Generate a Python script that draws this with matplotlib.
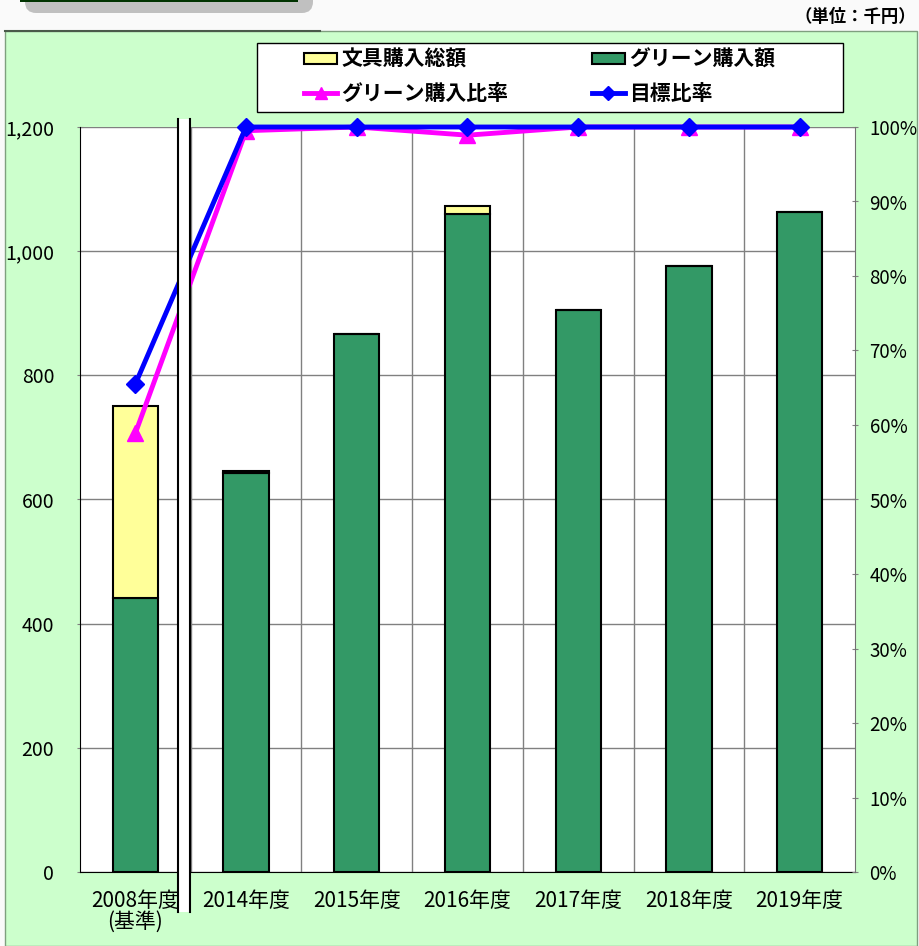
import numpy as np
import matplotlib.pyplot as plt
from matplotlib.patches import Rectangle, FancyBboxPatch, Patch
from matplotlib.lines import Line2D

plt.rcParams['font.family'] = ['Noto Sans CJK JP', 'DejaVu Sans']

# Datos (千円 y %)
years = ['2008年度\n(基準)', '2014年度', '2015年度', '2016年度', '2017年度', '2018年度', '2019年度']
total_buy = [750, 646, 866, 1072, 905, 976, 1063]      # 文具購入総額
green_buy = [442, 643, 866, 1060, 905, 976, 1063]      # グリーン購入額
green_ratio = [58.9, 99.5, 100, 98.9, 100, 100, 100]   # グリーン購入比率
target_ratio = [65.5, 100, 100, 100, 100, 100, 100]    # 目標比率

W, H = 920, 946
fig = plt.figure(figsize=(W / 100, H / 100), dpi=100)
fig.patch.set_facecolor('#FAFAFA')

def fx(px):
    return px / W

def fy(py):
    return 1 - py / H

# Panel verde de fondo
fig.add_artist(Rectangle((fx(5), 0), fx(912), fy(31), transform=fig.transFigure,
                         facecolor='#CCFFCC', edgecolor='#7F9F7F', lw=1, zorder=0))
fig.add_artist(Line2D([fx(5), fx(320)], [fy(31), fy(31)], transform=fig.transFigure,
                      color='#4A5A4A', lw=1.5, zorder=1))
# Decoración superior izquierda (cortada)
fig.add_artist(FancyBboxPatch((fx(25), fy(13)), fx(288), fy(-20) - fy(13),
                              boxstyle='round,pad=0,rounding_size=0.012',
                              transform=fig.transFigure, facecolor='#C0C0C0',
                              edgecolor='none', zorder=1))
fig.add_artist(Rectangle((fx(20), fy(2)), fx(278), fy(-10) - fy(2), transform=fig.transFigure,
                         facecolor='#003300', edgecolor='none', zorder=2))

fig.text(fx(916), fy(17), '（単位：千円）', ha='right', va='center', fontsize=12.5, fontweight='bold')

# Ejes
ax = fig.add_axes([fx(80), fy(872), fx(855 - 80), fy(127) - fy(872)])
ax.set_facecolor('white')
x = np.arange(len(years))
top_part = np.array(total_buy) - np.array(green_buy)
ax.bar(x, green_buy, width=0.41, color='#339966', edgecolor='black', lw=1.5, zorder=3)
ax.bar(x, top_part, bottom=green_buy, width=0.41, color='#FFFF99', edgecolor='black', lw=1.5, zorder=3)

ax.set_xlim(-0.5, len(years) - 0.5)
ax.set_ylim(0, 1200)
ax.set_yticks(np.arange(0, 1201, 200))
ax.set_yticklabels([f'{v:,}' for v in range(0, 1201, 200)], fontsize=14)
ax.set_xticks(x)
ax.set_xticklabels(years, fontsize=15, linespacing=0.95)
ax.tick_params(axis='x', length=0, pad=13)
ax.tick_params(axis='y', direction='inout', length=5, color='#808080', pad=16)
ax.grid(axis='y', color='#808080', lw=1, zorder=0)
for b in np.arange(0.5, len(years) - 1, 1):
    ax.axvline(b, color='#808080', lw=1, zorder=0)
for s in ['top', 'right']:
    ax.spines[s].set_visible(False)
ax.spines['left'].set_color('black')
ax.spines['bottom'].set_color('black')

ax2 = ax.twinx()
ax2.set_ylim(0, 100)
ax2.set_yticks(np.arange(0, 101, 10))
ax2.set_yticklabels([f'{v}%' for v in range(0, 101, 10)], fontsize=13.5)
ax2.tick_params(axis='y', direction='inout', length=5, color='#808080', pad=8)
ax2.plot(x, green_ratio, color='#FF00FF', lw=3.5, marker='^', ms=11, clip_on=False, zorder=4)
ax2.plot(x, target_ratio, color='#0000FF', lw=3.5, marker='D', ms=9, clip_on=False, zorder=5)
for s in ['top', 'left', 'bottom']:
    ax2.spines[s].set_visible(False)
ax2.spines['right'].set_color('#707070')

# Corte del eje entre 2008 y 2014
fig.add_artist(Rectangle((fx(178), fy(912)), fx(12), fy(119) - fy(912), transform=fig.transFigure,
                         facecolor='white', edgecolor='none', zorder=10))
for xp in [178, 190]:
    fig.add_artist(Line2D([fx(xp), fx(xp)], [fy(912), fy(119)], transform=fig.transFigure,
                          color='black', lw=1.5, zorder=11))

# Leyenda
fig.add_artist(Rectangle((fx(257), fy(112)), fx(843 - 257), fy(43) - fy(112), transform=fig.transFigure,
                         facecolor='white', edgecolor='black', lw=1, zorder=12))
handles = [
    Patch(facecolor='#FFFF99', edgecolor='black', lw=1.5),
    Line2D([], [], color='#FF00FF', lw=3.5, marker='^', ms=9),
    Patch(facecolor='#339966', edgecolor='black', lw=1.5),
    Line2D([], [], color='#0000FF', lw=3.5, marker='D', ms=7),
]
labels = ['文具購入総額', 'グリーン購入比率', 'グリーン購入額', '目標比率']
leg = fig.legend(handles, labels, loc='upper left', bbox_to_anchor=(fx(304), fy(49)),
                 ncol=2, frameon=False, borderaxespad=0, borderpad=0,
                 prop={'size': 15, 'weight': 'bold'}, handlelength=1.6, handleheight=0.45,
                 handletextpad=0.2, columnspacing=4.0, labelspacing=0.6)
leg.set_zorder(13)

fig.savefig('out.png', dpi=100)
